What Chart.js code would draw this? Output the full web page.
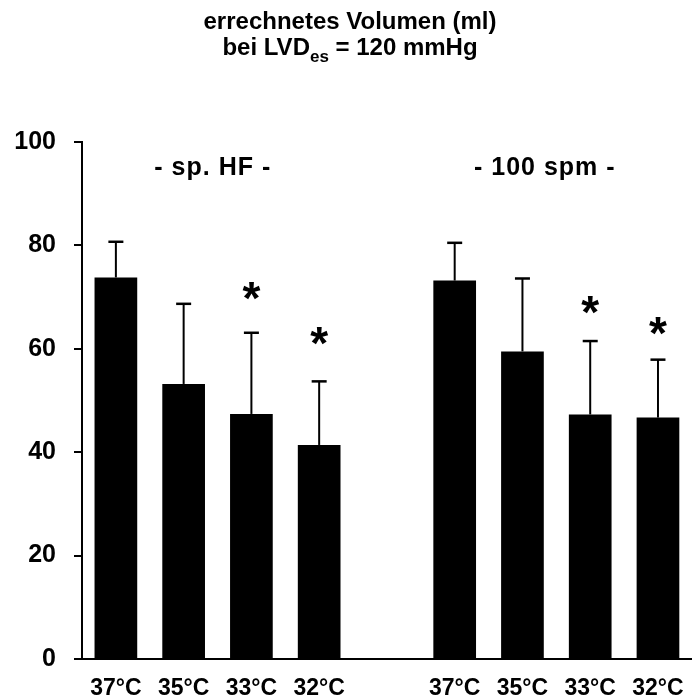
<!DOCTYPE html>
<html>
<head>
<meta charset="utf-8">
<script src="https://cdn.jsdelivr.net/npm/chart.js@4/dist/chart.umd.min.js"></script>
<style>
  html, body { margin: 0; padding: 0; background: #fff; }
  #wrap { width: 700px; height: 700px; }
</style>
</head>
<body>
<div id="wrap"><canvas id="chart" width="700" height="700"></canvas></div>
<script>
// categories: two groups of four temperatures, one empty slot between them
const labels = ["37°C", "35°C", "33°C", "32°C", "", "37°C", "35°C", "33°C", "32°C"];
const means = [73.8, 53.2, 47.4, 41.4, null, 73.2, 59.5, 47.3, 46.7];
const sds = [6.9, 15.5, 15.7, 12.3, null, 7.3, 14.1, 14.2, 11.2];
// significance asterisks: level (axis units) where each star sits, null = none
const stars = [null, null, 70.9, 62.2, null, null, null, 68.2, 64.3];
const groupNames = ["- sp. HF -", "- 100 spm -"];
const yTicks = [0, 20, 40, 60, 80, 100];

const FONT = "'Liberation Sans', Arial, sans-serif";

const titlePlugin = {
  id: "titleText",
  afterDraw(chart) {
    const ctx = chart.ctx;
    ctx.save();
    ctx.fillStyle = "#000";
    ctx.textBaseline = "alphabetic";
    ctx.font = `bold 24px ${FONT}`;
    ctx.textAlign = "center";
    ctx.fillText("errechnetes Volumen (ml)", 350, 29);

    // second line with subscript
    const a = "bei LVD", sub = "es", b = " = 120 mmHg";
    const wa = ctx.measureText(a).width;
    const wb = ctx.measureText(b).width;
    ctx.font = `bold 17px ${FONT}`;
    const ws = ctx.measureText(sub).width;
    let x = 350 - (wa + ws + wb) / 2;
    ctx.textAlign = "left";
    ctx.font = `bold 24px ${FONT}`;
    ctx.fillText(a, x, 55);
    x += wa;
    ctx.font = `bold 17px ${FONT}`;
    ctx.fillText(sub, x, 62);
    x += ws;
    ctx.font = `bold 24px ${FONT}`;
    ctx.fillText(b, x, 55);
    ctx.restore();
  },
};

const errorBarPlugin = {
  id: "errorBars",
  afterDatasetsDraw(chart) {
    const ctx = chart.ctx;
    const xs = chart.scales.x, ys = chart.scales.y;
    ctx.save();
    ctx.strokeStyle = "#000";
    means.forEach((m, i) => {
      if (m == null) return;
      const px = xs.getPixelForValue(i);
      const top = ys.getPixelForValue(m + sds[i]);
      ctx.lineWidth = 2;
      ctx.beginPath();
      ctx.moveTo(px, ys.getPixelForValue(m));
      ctx.lineTo(px, top);
      ctx.stroke();
      ctx.lineWidth = 2.5;
      ctx.beginPath();
      ctx.moveTo(px - 7.5, top);
      ctx.lineTo(px + 7.5, top);
      ctx.stroke();
    });

    // asterisks
    ctx.fillStyle = "#000";
    ctx.textAlign = "center";
    ctx.textBaseline = "alphabetic";
    ctx.font = `bold 46px ${FONT}`;
    stars.forEach((s, i) => {
      if (s == null) return;
      ctx.fillText("*", xs.getPixelForValue(i), ys.getPixelForValue(s) + 22);
    });

    // group headings
    ctx.font = `bold 25px ${FONT}`;
    ctx.letterSpacing = "1px";
    ctx.textBaseline = "middle";
    ctx.fillText(groupNames[0], xs.getPixelForValue(1.43), ys.getPixelForValue(95));
    ctx.fillText(groupNames[1], xs.getPixelForValue(6.33), ys.getPixelForValue(95));
    ctx.restore();
  },
};

new Chart(document.getElementById("chart"), {
  type: "bar",
  data: {
    labels: labels,
    datasets: [{
      data: means,
      backgroundColor: "#000",
      borderWidth: 0,
      barPercentage: 0.63,
      categoryPercentage: 1.0,
    }],
  },
  options: {
    responsive: false,
    animation: false,
    layout: { padding: { top: 142, right: 6, left: 0, bottom: 0 } },
    plugins: {
      legend: { display: false },
      tooltip: { enabled: false },
    },
    scales: {
      x: {
        grid: { display: false, drawTicks: false },
        border: { display: true, color: "#000", width: 2 },
        ticks: {
          color: "#000",
          font: { family: FONT, size: 23, weight: "bold" },
          padding: 16,
          maxRotation: 0,
          autoSkip: false,
        },
        afterFit: (s) => { s.height = 41; },
      },
      y: {
        min: 0,
        max: 100,
        afterBuildTicks: (s) => { s.ticks = yTicks.map((v) => ({ value: v })); },
        grid: { drawOnChartArea: false, drawTicks: true, tickLength: 8, color: "#000", lineWidth: 2 },
        border: { display: true, color: "#000", width: 2 },
        ticks: {
          color: "#000",
          font: { family: FONT, size: 25, weight: "bold" },
          padding: 18,
        },
        afterFit: (s) => { s.width = 82; },
      },
    },
  },
  plugins: [titlePlugin, errorBarPlugin],
});
</script>
</body>
</html>
